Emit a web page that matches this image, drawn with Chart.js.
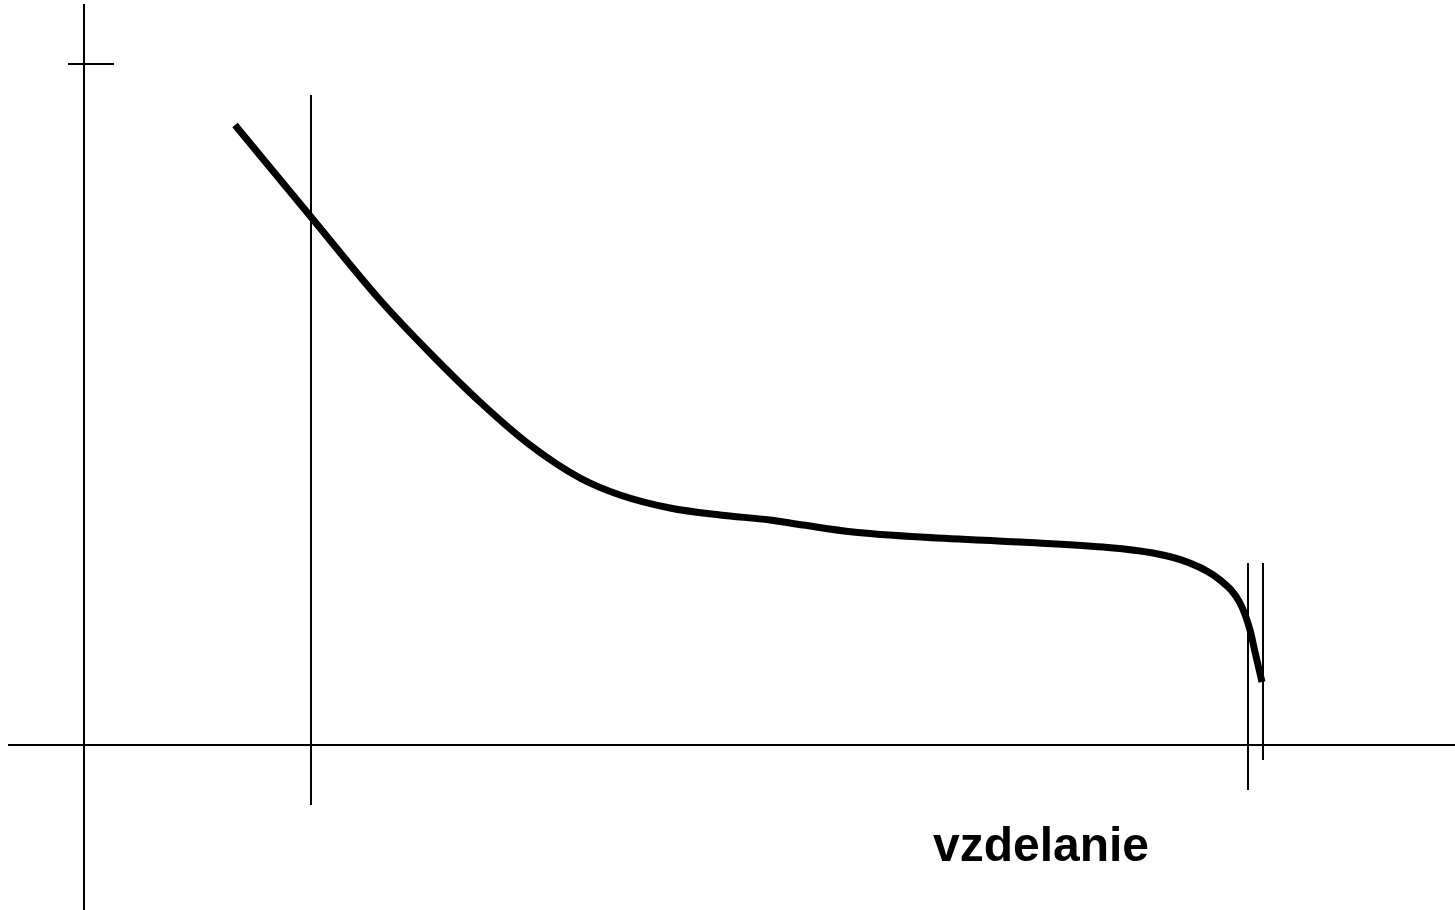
<!DOCTYPE html>
<html>
<head>
<meta charset="utf-8">
<script src="https://cdn.jsdelivr.net/npm/chart.js@4/dist/chart.umd.min.js"></script>
<style>
  html, body { margin: 0; padding: 0; background: #fff; }
  #wrap { width: 1455px; height: 910px; }
</style>
</head>
<body>
<div id="wrap"><canvas id="c"></canvas></div>
<script>
// krivka (x = vzdelanie, y = hodnota), odhad z obrazku
var curveX = [1.51, 2.27, 2.96, 3.46, 3.96, 4.46, 4.96, 5.36, 5.86, 6.36, 6.86, 7.19, 7.69, 8.36, 9.36, 10.19, 10.69, 11.03, 11.36, 11.56, 11.66, 11.71, 11.78];
var curveY = [6.20, 5.28, 4.45, 3.92, 3.43, 3.00, 2.67, 2.50, 2.37, 2.30, 2.25, 2.20, 2.13, 2.08, 2.03, 1.98, 1.92, 1.83, 1.65, 1.42, 1.15, 0.93, 0.63];

// osi
var xAxisRange = [-0.76, 13.71];
var yAxisRange = [-1.65, 7.41];
var yTickLevel = 6.81;
var yTickRange = [-0.16, 0.30];

// zvisle pomocne ciary
var guideX = [2.27, 11.64, 11.79];
var guideTop = [6.50, 1.82, 1.82];
var guideBottom = [-0.60, -0.45, -0.15];

var axisLabel = "vzdelanie";
var labelPos = [9.57, -1.03];

function pts(xs, ys) {
	return xs.map(function (x, i) { return { x: x, y: ys[i] }; });
}

function seg(data, width) {
	return {
		data: data,
		borderColor: "#000",
		borderWidth: width,
		pointRadius: 0,
		tension: 0,
		clip: false
	};
}

var datasets = [
	seg(pts(xAxisRange, [0, 0]), 2),
	seg(pts([0, 0], yAxisRange), 2),
	seg(pts(yTickRange, [yTickLevel, yTickLevel]), 2)
];
guideX.forEach(function (gx, i) {
	datasets.push(seg(pts([gx, gx], [guideTop[i], guideBottom[i]]), 2));
});
var curve = seg(pts(curveX, curveY), 7);
curve.cubicInterpolationMode = "monotone";
curve.borderCapStyle = "butt";
datasets.push(curve);

// popis osi x
var labelPlugin = {
	id: "axisLabel",
	afterDatasetsDraw: function (chart) {
		var ctx = chart.ctx;
		var px = chart.scales.x.getPixelForValue(labelPos[0]);
		var py = chart.scales.y.getPixelForValue(labelPos[1]);
		ctx.save();
		ctx.fillStyle = "#000";
		ctx.font = "bold 48px 'Liberation Sans', Arial, sans-serif";
		ctx.textAlign = "center";
		ctx.textBaseline = "middle";
		ctx.fillText(axisLabel, px, py);
		ctx.restore();
	}
};

var chart = new Chart(document.getElementById("c"), {
	type: "line",
	data: { datasets: datasets },
	options: {
		responsive: true,
		maintainAspectRatio: false,
		animation: false,
		layout: { padding: 0 },
		plugins: {
			legend: { display: false },
			tooltip: { enabled: false }
		},
		scales: {
			x: { type: "linear", min: -0.84, max: 13.71, display: false },
			y: { type: "linear", min: -1.65, max: 7.45, display: false }
		}
	},
	plugins: [labelPlugin]
});
</script>
</body>
</html>
